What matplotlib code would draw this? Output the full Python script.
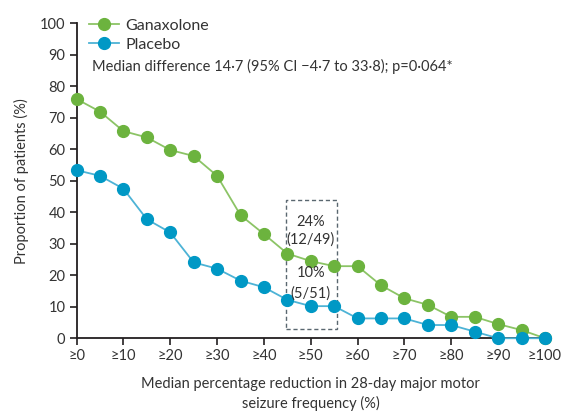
import numpy as np
import matplotlib.pyplot as plt
from matplotlib.patches import Rectangle

plt.rcParams['font.family'] = ['Lato', 'DejaVu Sans']

# umbrales de reducción (%)
umbrales = [0, 5, 10, 15, 20, 25, 30, 35, 40, 45, 50, 55, 60, 65, 70, 75, 80, 85, 90, 95, 100]
ganaxolona = [76, 72, 65.8, 63.8, 59.8, 57.9, 51.6, 39.1, 33.1, 26.9, 24.5, 22.9, 22.9, 16.8, 12.7, 10.6, 6.8, 6.8, 4.5, 2.6, 0]
placebo = [53.4, 51.6, 47.5, 37.8, 33.6, 24.1, 22.1, 18.3, 16.2, 12.2, 10.2, 10.2, 6.3, 6.3, 6.3, 4.2, 4.2, 2.1, 0, 0, 0]

xticks = list(range(0, 101, 10))
xlabels = ["≥%d" % v for v in xticks]
yticks = list(range(0, 101, 10))

verde = "#6cb33e"
azul = "#0098c5"
texto = "#333333"

fig = plt.figure(figsize=(5.63, 4.12), dpi=100)
ax = fig.add_axes([0.136, 0.179, 0.832, 0.764])

ax.plot(umbrales, ganaxolona, color="#8cc466", lw=1.3, marker="o", ms=8.5,
        mfc=verde, mec=verde, clip_on=False, zorder=3, label="Ganaxolone")
ax.plot(umbrales, placebo, color="#4db3d6", lw=1.3, marker="o", ms=8.5,
        mfc=azul, mec=azul, clip_on=False, zorder=3, label="Placebo")

# recuadro punteado en ≥50
ax.add_patch(Rectangle((44.7, 3), 10.9, 41, fill=False, ls=(0, (3, 2)),
                       lw=1.0, ec="#5a6770", zorder=2))
ax.text(50, 37, "24%", ha="center", va="center", fontsize=10.5, color=texto)
ax.text(50, 31.2, "(12/49)", ha="center", va="center", fontsize=10.5, color=texto)
ax.text(50, 20.6, "10%", ha="center", va="center", fontsize=10.5, color=texto)
ax.text(50, 14.3, "(5/51)", ha="center", va="center", fontsize=10.5, color=texto)

ax.set_xlim(0, 100)
ax.set_ylim(0, 100)
ax.set_xticks(xticks)
ax.set_xticklabels(xlabels)
ax.set_yticks(yticks)
ax.tick_params(direction="out", length=5, width=1.2, color="#231f20",
               labelsize=10.5, labelcolor=texto, pad=3)
for s in ["top", "right"]:
    ax.spines[s].set_visible(False)
for s in ["left", "bottom"]:
    ax.spines[s].set_linewidth(1.3)
    ax.spines[s].set_color("#231f20")

ax.set_ylabel("Proportion of patients (%)", fontsize=10.5, color=texto, labelpad=8)
ax.set_xlabel("Median percentage reduction in 28-day major motor\nseizure frequency (%)",
              fontsize=10.5, color=texto, labelpad=10, linespacing=1.4)

ax.legend(loc="upper left", bbox_to_anchor=(0.012, 1.035), frameon=False,
          fontsize=11.5, labelcolor=texto, handlelength=1.9, handletextpad=0.4,
          labelspacing=0.3, borderaxespad=0)
ax.text(0.032, 0.865, "Median difference 14·7 (95% CI −4·7 to 33·8); p=0·064*",
        transform=ax.transAxes, fontsize=10.5, color=texto, va="center")

fig.savefig("out.png", dpi=100)
